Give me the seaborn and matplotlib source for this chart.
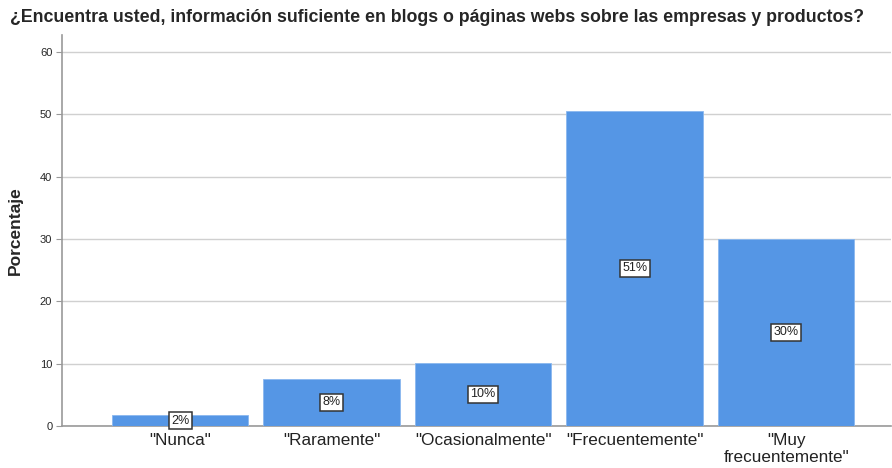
import numpy as np
import matplotlib
matplotlib.use('Agg')
import matplotlib.pyplot as plt
import pandas as pd
import seaborn as sns

# datos
categorias = ['"Nunca"', '"Raramente"', '"Ocasionalmente"', '"Frecuentemente"', '"Muy\nfrecuentemente"']
porcentajes = [1.7, 7.6, 10.1, 50.6, 30.0]
etiquetas = ['2%', '8%', '10%', '51%', '30%']
titulo = '¿Encuentra usted, información suficiente en blogs o páginas webs sobre las empresas y productos?'

df = pd.DataFrame({'categoria': categorias, 'porcentaje': porcentajes})

sns.set_theme(style='white')
plt.rcParams['font.family'] = ['Liberation Sans', 'DejaVu Sans']

fig = plt.figure(figsize=(8.92, 4.68), dpi=100)
ax = fig.add_axes([0.0695, 0.09, 0.929, 0.835])

sns.barplot(data=df, x='categoria', y='porcentaje', color='#5596e5', saturation=1,
            width=0.9, edgecolor='#8ab8ef', linewidth=0.6, ax=ax, zorder=3)

# etiquetas en el centro de cada barra
for i, (v, t) in enumerate(zip(porcentajes, etiquetas)):
    ax.text(i, v / 2, t, ha='center', va='center', fontsize=9, color='#222222', zorder=5,
            bbox=dict(boxstyle='square,pad=0.2', fc='white', ec='#333333', lw=1.1))

ax.set_ylim(0, 62.7)
ax.set_xlim(-0.78, 4.69)
ax.set_yticks(np.arange(0, 61, 10))
ax.yaxis.grid(True, color='#d0d0d0', lw=1, zorder=0)
ax.set_axisbelow(True)
ax.tick_params(axis='y', labelsize=8, length=4, color='#999999', pad=3, left=True, width=0.8)
ax.tick_params(axis='x', labelsize=12.3, length=0, pad=5, colors='#222222')
for s in ['top', 'right']:
    ax.spines[s].set_visible(False)
for s in ['left', 'bottom']:
    ax.spines[s].set_color('#999999')
    ax.spines[s].set_linewidth(1.2)

ax.set_xlabel('')
ax.set_ylabel('Porcentaje', fontsize=12.5, fontweight='bold', labelpad=12)
fig.text(0.011, 0.962, titulo, fontsize=12.8, fontweight='bold', ha='left', va='center')

fig.savefig('out.png', dpi=100)
